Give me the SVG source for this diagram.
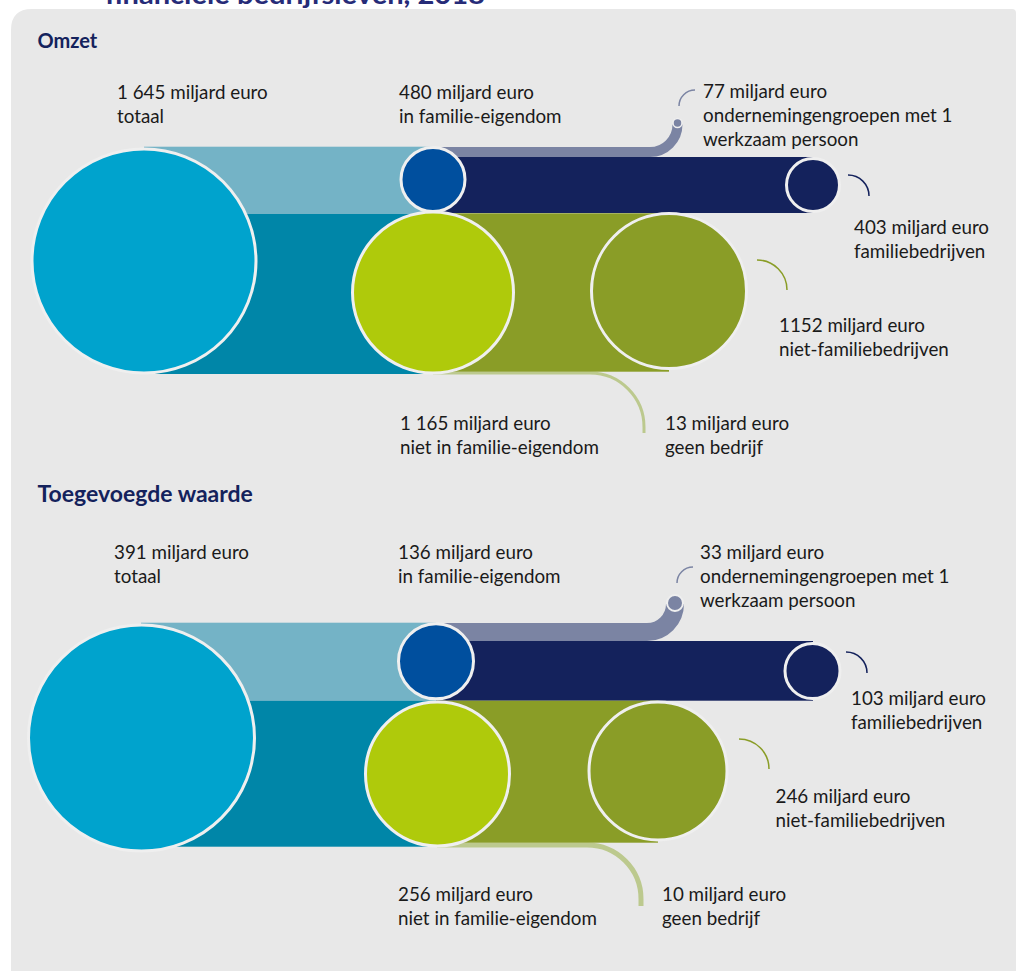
<svg xmlns="http://www.w3.org/2000/svg" width="1016" height="971" viewBox="0 0 1016 971">
<style>
.lbl{font-family:Lato,"Open Sans","Liberation Sans",sans-serif;font-size:18.8px;fill:#1a1a1a}
.hd{font-family:Lato,"Open Sans","Liberation Sans",sans-serif;font-weight:bold;fill:#14225c}
.ring{stroke:#efefef;stroke-width:3}
.thin{fill:none;stroke-width:1.5}
</style>
<rect width="1016" height="971" fill="#ffffff"/>
<path d="M11 30 Q11 9 32 9 H1012 Q1016 9 1016 13 V971 H11 Z" fill="#e8e8e8"/>
<text x="105" y="4" font-family="Lato,'Open Sans',sans-serif" font-weight="bold" font-size="27" fill="#262b78" textLength="380" lengthAdjust="spacingAndGlyphs">financiële bedrijfsleven, 2018</text>

<g id="omzet">
<text class="hd" x="37.5" y="47.5" font-size="20">Omzet</text>
<g id="connectors-omzet">
<rect x="144" y="146.7" width="289" height="67.3" fill="#74b3c6"/>
<rect x="144" y="214" width="289" height="160" fill="#0086a8"/>
<path d="M433 152 H650 A27.5 27.5 0 0 0 677.5 124.5" fill="none" stroke="#7b84a3" stroke-width="10"/>
<rect x="433" y="157" width="380" height="56" fill="#14225c"/>
<path d="M433 373 H590 A54 54 0 0 1 644 427 V433" fill="none" stroke="#bcc98e" stroke-width="3"/>
<rect x="433" y="213.3" width="236" height="158.4" fill="#8a9d27"/>
<path class="thin" d="M679 106 A16 16 0 0 1 695 90" stroke="#7b84a3"/>
<path class="thin" d="M848 175 A21 21 0 0 1 869 196" stroke="#14225c"/>
<path class="thin" d="M757 260 A30 30 0 0 1 787 290" stroke="#8a9d27"/>
</g>
<g id="o-totaal"><circle class="ring" cx="144" cy="261" r="112" fill="#00a3cd"/>
<text class="lbl" x="117" y="99">1 645 miljard euro</text><text class="lbl" x="117" y="123">totaal</text></g>
<g id="o-familie"><circle class="ring" cx="433" cy="179.5" r="32" fill="#004f9e"/>
<text class="lbl" x="399" y="99">480 miljard euro</text><text class="lbl" x="399" y="123">in familie-eigendom</text></g>
<g id="o-groep"><circle cx="677.5" cy="123" r="4.5" fill="#7b84a3" stroke="#efefef" stroke-width="1.5"/>
<text class="lbl" x="703" y="98">77 miljard euro</text><text class="lbl" x="703" y="122">ondernemingengroepen met 1</text><text class="lbl" x="703" y="146">werkzaam persoon</text></g>
<g id="o-famb"><circle class="ring" cx="813" cy="185" r="26.5" fill="#14225c"/>
<text class="lbl" x="854" y="234">403 miljard euro</text><text class="lbl" x="854" y="258">familiebedrijven</text></g>
<g id="o-niet"><circle class="ring" cx="433" cy="292.5" r="80.5" fill="#afca0b"/>
<text class="lbl" x="400" y="430">1 165 miljard euro</text><text class="lbl" x="400" y="454">niet in familie-eigendom</text></g>
<g id="o-nietfam"><circle class="ring" cx="669" cy="291" r="77.5" fill="#8a9d27"/>
<text class="lbl" x="779" y="332">1152 miljard euro</text><text class="lbl" x="779" y="356">niet-familiebedrijven</text></g>
<g id="o-geen"><text class="lbl" x="665" y="430">13 miljard euro</text><text class="lbl" x="665" y="454">geen bedrijf</text></g>
</g>

<g id="toegevoegd">
<text class="hd" x="37.5" y="502" font-size="23">Toegevoegde waarde</text>
<g id="connectors-tw">
<rect x="141" y="622.7" width="295" height="78" fill="#74b3c6"/>
<rect x="141" y="700.7" width="296" height="146" fill="#0086a8"/>
<path d="M436 632 H647 A28 28 0 0 0 675 604" fill="none" stroke="#7b84a3" stroke-width="18"/>
<rect x="436" y="641" width="377" height="59.7" fill="#14225c"/>
<path d="M437 845 H587 A54 54 0 0 1 641 899 V906" fill="none" stroke="#bcc98e" stroke-width="5"/>
<rect x="437" y="700.7" width="221" height="142" fill="#8a9d27"/>
<path class="thin" d="M677 583 A16 16 0 0 1 693 567" stroke="#7b84a3"/>
<path class="thin" d="M846 652 A21 21 0 0 1 867 673" stroke="#14225c"/>
<path class="thin" d="M739 739 A30 30 0 0 1 769 769" stroke="#8a9d27"/>
</g>
<g id="t-totaal"><circle class="ring" cx="141.5" cy="738" r="113" fill="#00a3cd"/>
<text class="lbl" x="114" y="559">391 miljard euro</text><text class="lbl" x="114" y="583">totaal</text></g>
<g id="t-familie"><circle class="ring" cx="436" cy="661.3" r="37.5" fill="#004f9e"/>
<text class="lbl" x="398" y="559">136 miljard euro</text><text class="lbl" x="398" y="583">in familie-eigendom</text></g>
<g id="t-groep"><circle cx="675" cy="603" r="8" fill="#7b84a3" stroke="#efefef" stroke-width="2"/>
<text class="lbl" x="700" y="559">33 miljard euro</text><text class="lbl" x="700" y="583">ondernemingengroepen met 1</text><text class="lbl" x="700" y="607">werkzaam persoon</text></g>
<g id="t-famb"><circle class="ring" cx="812.5" cy="671" r="27.5" fill="#14225c"/>
<text class="lbl" x="851" y="705">103 miljard euro</text><text class="lbl" x="851" y="729">familiebedrijven</text></g>
<g id="t-niet"><circle class="ring" cx="437.5" cy="774" r="72" fill="#afca0b"/>
<text class="lbl" x="398" y="901">256 miljard euro</text><text class="lbl" x="398" y="925">niet in familie-eigendom</text></g>
<g id="t-nietfam"><circle class="ring" cx="658" cy="771" r="69" fill="#8a9d27"/>
<text class="lbl" x="775.5" y="803">246 miljard euro</text><text class="lbl" x="775.5" y="827">niet-familiebedrijven</text></g>
<g id="t-geen"><text class="lbl" x="662" y="901">10 miljard euro</text><text class="lbl" x="662" y="925">geen bedrijf</text></g>
</g>
</svg>
